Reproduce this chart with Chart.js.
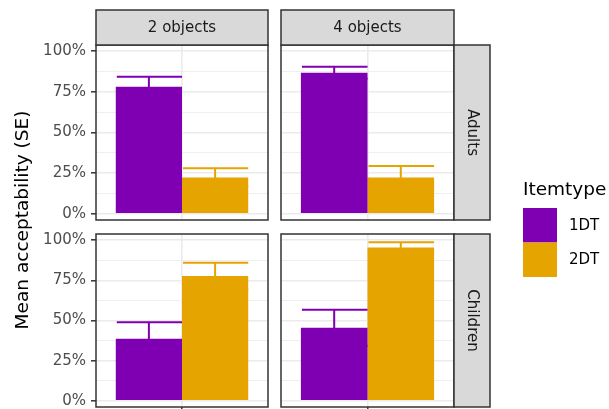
<!DOCTYPE html>
<html>
<head>
<meta charset="utf-8">
<script src="https://cdn.jsdelivr.net/npm/chart.js@4/dist/chart.umd.min.js"></script>
<style>
  body { margin: 0; background: #ffffff; }
  canvas { position: absolute; left: 0; top: 0; }
</style>
</head>
<body>
<canvas id="panel_a" width="609" height="409"></canvas>
<canvas id="panel_b" width="609" height="409"></canvas>
<canvas id="panel_c" width="609" height="409"></canvas>
<canvas id="panel_d" width="609" height="409"></canvas>
<script>
// facets : colonnes = nombre d'objets, lignes = groupe d'age
var objectGroups = ['2 objects', '4 objects'];
var ageGroups = ['Adults', 'Children'];
var itemTypes = ['1DT', '2DT'];

// moyennes (%), une valeur par colonne
var adults1DT = [78.2, 86.8];
var adults2DT = [22.4, 22.4];
var children1DT = [38.7, 45.5];
var children2DT = [77.7, 95.4];

// erreurs standard (%)
var adults1DTse = [6.1, 3.7];
var adults2DTse = [5.6, 7.0];
var children1DTse = [10.2, 11.2];
var children2DTse = [8.2, 3.3];

// graduations de l'axe y (majeures tous les 25, mineures entre)
var yTicks = [0, 12.5, 25, 37.5, 50, 62.5, 75, 87.5, 100];

var itemColors = ['#7F00B2', '#E5A400'];

// emplacement des panneaux (px)
var colLeft = [96, 281];
var colRight = [268, 454];
var rowTop = [45, 234];
var rowBottom = [220, 407];

Chart.defaults.font.family = "'DejaVu Sans', sans-serif";

var facetPlugin = {
    id: 'facet',
    afterDatasetsDraw: function(chart) {
        // barres d'erreur moyenne +/- SE
        var ctx = chart.ctx;
        var y = chart.scales.y;
        ctx.save();
        chart.data.datasets.forEach(function(ds, i) {
            var bar = chart.getDatasetMeta(i).data[0];
            var m = ds.data[0];
            var se = ds.se[0];
            var yHi = y.getPixelForValue(m + se);
            var yLo = y.getPixelForValue(m - se);
            var x0 = bar.x - bar.width / 2 + 1;
            var x1 = bar.x + bar.width / 2;
            ctx.strokeStyle = ds.backgroundColor;
            ctx.lineWidth = 2;
            ctx.beginPath();
            ctx.moveTo(bar.x, yLo);
            ctx.lineTo(bar.x, yHi);
            ctx.moveTo(x0, yHi);
            ctx.lineTo(x1, yHi);
            ctx.moveTo(x0, yLo);
            ctx.lineTo(x1, yLo);
            ctx.stroke();
        });
        ctx.restore();
    },
    afterDraw: function(chart, args, opts) {
        var ctx = chart.ctx;
        var ca = chart.chartArea;
        ctx.save();
        ctx.lineWidth = 1.5;
        ctx.strokeStyle = '#333333';
        ctx.strokeRect(ca.left, ca.top, ca.right - ca.left, ca.bottom - ca.top);

        ctx.font = "15px 'DejaVu Sans'";
        ctx.textAlign = 'center';
        ctx.textBaseline = 'middle';
        if (opts.top) {
            ctx.fillStyle = '#D9D9D9';
            ctx.fillRect(ca.left, 10, ca.right - ca.left, ca.top - 10);
            ctx.strokeRect(ca.left, 10, ca.right - ca.left, ca.top - 10);
            ctx.fillStyle = '#1A1A1A';
            ctx.fillText(opts.top, (ca.left + ca.right) / 2, (10 + ca.top) / 2 + 1);
        }
        if (opts.right) {
            ctx.fillStyle = '#D9D9D9';
            ctx.fillRect(ca.right, ca.top, 36, ca.bottom - ca.top);
            ctx.strokeRect(ca.right, ca.top, 36, ca.bottom - ca.top);
            ctx.fillStyle = '#1A1A1A';
            ctx.translate(ca.right + 18, (ca.top + ca.bottom) / 2);
            ctx.rotate(Math.PI / 2);
            ctx.fillText(opts.right, 0, 0);
            ctx.setTransform(1, 0, 0, 1, 0, 0);
        }
        if (opts.yTitle) {
            ctx.fillStyle = '#000000';
            ctx.font = "18.5px 'DejaVu Sans'";
            ctx.translate(23, 220);
            ctx.rotate(-Math.PI / 2);
            ctx.fillText(opts.yTitle, 0, 0);
            ctx.setTransform(1, 0, 0, 1, 0, 0);
        }
        if (opts.legend) {
            // legende Itemtype
            ctx.fillStyle = '#000000';
            ctx.font = "18.5px 'DejaVu Sans'";
            ctx.textAlign = 'left';
            ctx.textBaseline = 'alphabetic';
            ctx.fillText('Itemtype', 523, 195);
            ctx.font = "15px 'DejaVu Sans'";
            ctx.textBaseline = 'middle';
            for (var i = 0; i < itemTypes.length; i++) {
                ctx.fillStyle = itemColors[i];
                ctx.fillRect(523, 208 + i * 34.5, 34, 34.5);
                ctx.fillStyle = '#000000';
                ctx.fillText(itemTypes[i], 569, 226 + i * 34.5);
            }
        }
        ctx.restore();
    }
};

function makePanel(id, col, row) {
    var first = row == 0 ? adults1DT : children1DT;
    var second = row == 0 ? adults2DT : children2DT;
    var firstSe = row == 0 ? adults1DTse : children1DTse;
    var secondSe = row == 0 ? adults2DTse : children2DTse;
    var leftCol = col == 0;

    return new Chart(document.getElementById(id), {
        type: 'bar',
        data: {
            labels: [''],
            datasets: [{
                label: itemTypes[0],
                data: [first[col]],
                se: [firstSe[col]],
                backgroundColor: itemColors[0],
                categoryPercentage: 0.77,
                barPercentage: 1.0,
            },
            {
                label: itemTypes[1],
                data: [second[col]],
                se: [secondSe[col]],
                backgroundColor: itemColors[1],
                categoryPercentage: 0.77,
                barPercentage: 1.0,
            }],
        },
        options: {
            responsive: false,
            animation: false,
            devicePixelRatio: 1,
            layout: {
                padding: {
                    left: leftCol ? 0 : colLeft[col],
                    right: 609 - colRight[col],
                    top: rowTop[row],
                    bottom: 409 - rowBottom[row],
                },
            },
            plugins: {
                legend: { display: false },
                tooltip: { enabled: false },
                facet: {
                    top: row == 0 ? objectGroups[col] : null,
                    right: col == 1 ? ageGroups[row] : null,
                    yTitle: (col == 0 && row == 0) ? 'Mean acceptability (SE)' : null,
                    legend: (col == 1 && row == 0),
                },
            },
            scales: {
                x: {
                    offset: true,
                    border: { display: false },
                    grid: {
                        offset: false,
                        color: '#EBEBEB',
                        lineWidth: 1.6,
                        drawTicks: row == 1,
                        tickLength: 3,
                        tickColor: '#333333',
                        tickWidth: 1.5,
                    },
                    ticks: { display: false },
                    afterFit: function(s) {
                        s.height = 0;
                        s.paddingLeft = 0;
                        s.paddingRight = 0;
                    },
                },
                y: {
                    min: -3.8,
                    max: 103.8,
                    border: { display: false },
                    afterBuildTicks: function(s) {
                        s.ticks = yTicks.map(function(v) { return { value: v }; });
                    },
                    grid: {
                        color: '#EBEBEB',
                        lineWidth: function(c) {
                            return (c.tick && c.tick.value % 25 == 0) ? 1.6 : 0.8;
                        },
                        drawTicks: leftCol,
                        tickLength: 5,
                        tickWidth: 1.5,
                        tickColor: function(c) {
                            return (c.tick && c.tick.value % 25 == 0) ? '#333333' : 'rgba(0,0,0,0)';
                        },
                    },
                    ticks: {
                        display: leftCol,
                        padding: 5,
                        color: '#4D4D4D',
                        font: { size: 15 },
                        callback: function(v) {
                            return v % 25 == 0 ? v + '%' : '';
                        },
                    },
                    afterFit: function(s) {
                        s.width = leftCol ? colLeft[0] : 0;
                        s.paddingTop = 0;
                        s.paddingBottom = 0;
                    },
                },
            },
        },
        plugins: [facetPlugin],
    });
}

makePanel('panel_a', 0, 0);
makePanel('panel_b', 1, 0);
makePanel('panel_c', 0, 1);
makePanel('panel_d', 1, 1);
</script>
</body>
</html>
